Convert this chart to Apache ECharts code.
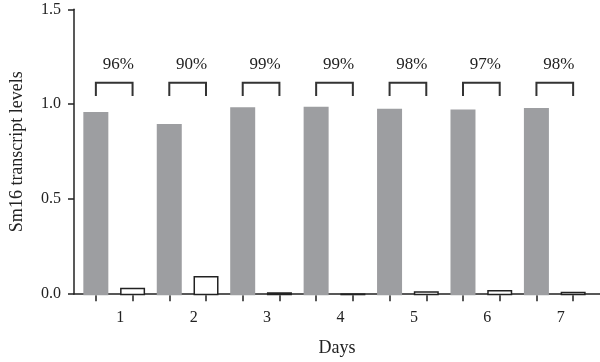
<!DOCTYPE html>
<html>
<head>
<meta charset="utf-8">
<script src="https://cdn.jsdelivr.net/npm/echarts@6/dist/echarts.min.js"></script>
<style>html,body{margin:0;padding:0;background:#fff}#c{width:600px;height:362px}</style>
</head>
<body>
<div id="c"></div>
<script>
const days = ['1', '2', '3', '4', '5', '6', '7'];
const grayValues = [0.961, 0.898, 0.986, 0.989, 0.979, 0.974, 0.982];
const whiteValues = [0.040, 0.101, 0.016, 0.010, 0.021, 0.028, 0.019];
const pctLabels = ['96%', '90%', '99%', '99%', '98%', '97%', '98%'];
const bracketTop = 1.115;
const bracketBottom = 1.045;
const labelLevel = 1.21;

const FONT = '"Liberation Serif", serif';
const INK = '#222';
const chart = echarts.init(document.getElementById('c'), null, {renderer: 'canvas'});
const pairHalf = 18.35;

const bracketData = days.map((d, i) => [i, bracketTop, bracketBottom, labelLevel]);

chart.setOption({
  animation: false,
  backgroundColor: '#fff',
  grid: [
    {left: 77.5, right: 8.5, top: 9.3, bottom: 66.7},
    {left: 71, right: 0, top: 9.3, bottom: 66.7}
  ],
  xAxis: [
    {
      type: 'category', gridIndex: 0, data: days, position: 'bottom',
      axisLine: {show: false}, axisTick: {show: false},
      axisLabel: {fontFamily: FONT, fontSize: 16, color: INK, margin: 14, padding: [0, 0, 0, 12]}
    },
    {
      type: 'category', gridIndex: 0, position: 'bottom',
      data: days.flatMap(d => [d + 'a', d + 'b']),
      axisLine: {show: false},
      axisTick: {show: true, alignWithLabel: true, length: 6, lineStyle: {color: INK, width: 1.5}},
      axisLabel: {show: false}
    },
    {
      type: 'value', gridIndex: 1, min: 0, max: 1, position: 'bottom',
      axisLine: {show: true, lineStyle: {color: INK, width: 1.5}},
      axisTick: {show: false}, axisLabel: {show: false}, splitLine: {show: false},
      name: 'Days', nameLocation: 'middle', nameGap: 45,
      nameTextStyle: {fontFamily: FONT, fontSize: 18, color: INK}
    }
  ],
  yAxis: [
    {type: 'value', gridIndex: 0, min: 0, max: 1.5, show: false},
    {
      type: 'value', gridIndex: 1, min: 0, max: 1.5, interval: 0.5,
      axisLine: {show: true, lineStyle: {color: INK, width: 1.5}},
      axisTick: {show: true, length: 6, lineStyle: {color: INK, width: 1.5}},
      splitLine: {show: false},
      axisLabel: {fontFamily: FONT, fontSize: 16, color: INK, margin: 13, formatter: v => v.toFixed(1)},
      name: 'Sm16 transcript levels', nameLocation: 'middle', nameGap: 48,
      nameTextStyle: {fontFamily: FONT, fontSize: 18, color: INK}
    }
  ],
  series: [
    {
      type: 'bar', xAxisIndex: 0, yAxisIndex: 0, data: grayValues,
      barWidth: 25, barGap: '47%',
      itemStyle: {color: '#9d9ea1'}
    },
    {
      type: 'bar', xAxisIndex: 0, yAxisIndex: 0, data: whiteValues,
      barWidth: 25, barGap: '47%',
      itemStyle: {color: '#fff', borderColor: INK, borderWidth: 1.5}
    },
    {
      type: 'custom', xAxisIndex: 0, yAxisIndex: 0, data: bracketData,
      renderItem: function (params, api) {
        const top = api.coord([api.value(0), api.value(1)]);
        const bot = api.coord([api.value(0), api.value(2)]);
        const lab = api.coord([api.value(0), api.value(3)]);
        const cx = top[0];
        return {
          type: 'group',
          children: [
            {
              type: 'polyline',
              shape: {points: [[cx - pairHalf, bot[1]], [cx - pairHalf, top[1]], [cx + pairHalf, top[1]], [cx + pairHalf, bot[1]]]},
              style: {stroke: '#333', lineWidth: 2, fill: null}
            },
            {
              type: 'text',
              x: cx + 4, y: lab[1],
              style: {text: pctLabels[params.dataIndex], fontFamily: FONT, fontSize: 17, fill: INK, align: 'center', verticalAlign: 'middle'}
            }
          ]
        };
      }
    }
  ]
});
</script>
</body>
</html>
